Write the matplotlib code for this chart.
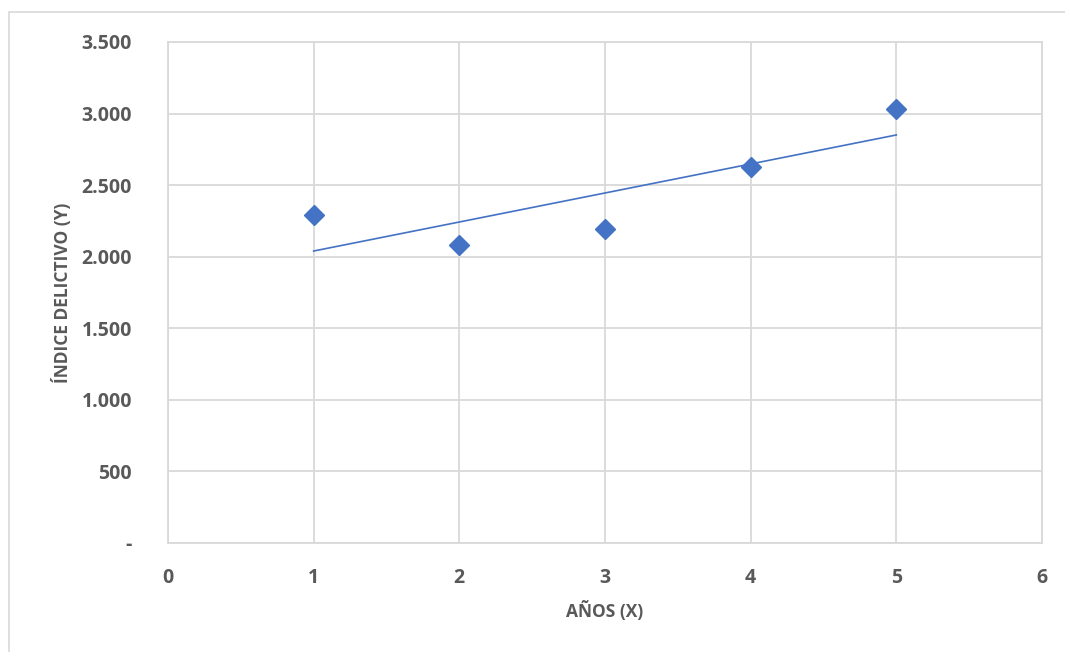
import numpy as np
from matplotlib import pyplot as plt
from matplotlib.ticker import FuncFormatter
from matplotlib.patches import Rectangle

## data
years = [1, 2, 3, 4, 5]
indice = [2291, 2082, 2194, 2627, 3032]
x_ticks = [0, 1, 2, 3, 4, 5, 6]
y_ticks = [0, 500, 1000, 1500, 2000, 2500, 3000, 3500]

plt.rcParams['font.family'] = ['Open Sans', 'DejaVu Sans']
plt.rcParams['font.weight'] = 'bold'
gray = '#595959'
blue = '#4472C4'

## linear trend line (least squares)
slope, intercept = np.polyfit(years, indice, 1)
trend_x = np.array([years[0], years[-1]])
trend_y = slope * trend_x + intercept


def fmt_y(v, pos):
    if v == 0:
        return '-'
    return '{:,.0f}'.format(v).replace(',', '.')


fig = plt.figure(figsize=(10.65, 6.52), dpi=100)
fig.patches.append(Rectangle((9 / 1065, -0.01), 1.02, 1 - 12 / 652 + 0.01,
                             transform=fig.transFigure, fill=False,
                             edgecolor='#d9d9d9', linewidth=1.2))
ax = fig.add_axes([168 / 1065, 1 - 543 / 652, 874 / 1065, 501 / 652])

ax.plot(trend_x, trend_y, color=blue, linewidth=1.2, zorder=3)
ax.plot(years, indice, linestyle='none', marker='D', markersize=10,
        color=blue, zorder=4)

ax.set_xlim(0, 6)
ax.set_ylim(0, 3500)
ax.set_xticks(x_ticks)
ax.set_yticks(y_ticks)
ax.yaxis.set_major_formatter(FuncFormatter(fmt_y))
ax.grid(True, color='#d9d9d9', linewidth=1.3)
ax.set_axisbelow(True)
for s in ax.spines.values():
    s.set_color('#d9d9d9')
    s.set_linewidth(1.3)
ax.tick_params(length=0, labelsize=14, labelcolor=gray)
ax.tick_params(axis='y', pad=26)
ax.tick_params(axis='x', pad=18)

ax.set_xlabel('AÑOS (X)', fontsize=12.5, fontweight='bold', color=gray, labelpad=9)
ax.set_ylabel('ÍNDICE DELICTIVO (Y)', fontsize=12.5, fontweight='bold', color=gray, labelpad=7)

plt.savefig('out.png', dpi=100)
